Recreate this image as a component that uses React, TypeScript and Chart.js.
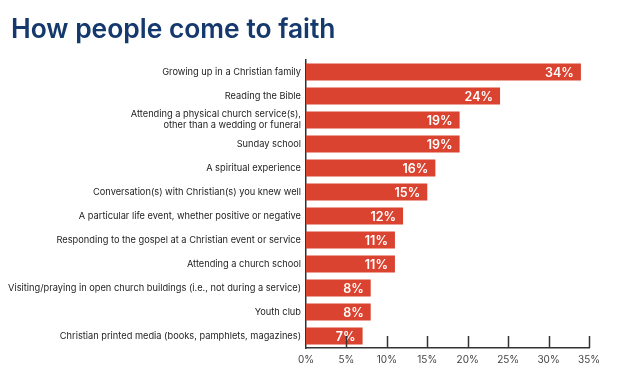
import React, { useEffect, useRef } from "react";
import { Chart, registerables } from "chart.js";

Chart.register(...registerables);

const TITLE = "How people come to faith";
const categories: (string | string[])[] = [
  "Growing up in a Christian family",
  "Reading the Bible",
  ["Attending a physical church service(s),", "other than a wedding or funeral"],
  "Sunday school",
  "A spiritual experience",
  "Conversation(s) with Christian(s) you knew well",
  "A particular life event, whether positive or negative",
  "Responding to the gospel at a Christian event or service",
  "Attending a church school",
  "Visiting/praying in open church buildings (i.e., not during a service)",
  "Youth club",
  "Christian printed media (books, pamphlets, magazines)",
];
const values = [34, 24, 19, 19, 16, 15, 12, 11, 11, 8, 8, 7];
const xTicks = [0, 5, 10, 15, 20, 25, 30, 35];

const BAR_COLOR = "#d9432f";
const TITLE_COLOR = "#15396d";
const FONT = "Inter, 'DejaVu Sans', sans-serif";

const overlayPlugin = {
  id: "overlay",
  afterDatasetsDraw(chart: any) {
    const { ctx, chartArea } = chart;
    const xs = chart.scales.x;
    const meta = chart.getDatasetMeta(0);
    ctx.save();
    // value labels
    ctx.fillStyle = "#ffffff";
    ctx.font = `600 12.5px ${FONT}`;
    ctx.textAlign = "right";
    ctx.textBaseline = "middle";
    meta.data.forEach((bar: any, i: number) => {
      ctx.fillText(`${values[i]}%`, bar.x - 7, bar.y + 1);
    });
    // upward tick marks
    ctx.strokeStyle = "#333333";
    ctx.lineWidth = 1.5;
    xTicks.forEach((t) => {
      if (t === 0) return;
      const x = Math.round(xs.getPixelForValue(t)) + 0.5;
      ctx.beginPath();
      ctx.moveTo(x, chartArea.bottom);
      ctx.lineTo(x, chartArea.bottom - 12);
      ctx.stroke();
    });
    // title
    ctx.fillStyle = TITLE_COLOR;
    ctx.font = `600 26.4px ${FONT}`;
    ctx.textAlign = "left";
    ctx.textBaseline = "alphabetic";
    ctx.fillText(TITLE, 11, 38);
    ctx.restore();
  },
};

export default function App() {
  const ref = useRef<HTMLCanvasElement>(null);
  useEffect(() => {
    document.body.style.margin = "0";
    const chart = new Chart(ref.current!, {
      type: "bar",
      data: {
        labels: categories,
        datasets: [
          {
            data: values,
            backgroundColor: BAR_COLOR,
            borderWidth: 0,
            barPercentage: 0.7,
            categoryPercentage: 1,
          },
        ],
      },
      options: {
        indexAxis: "y",
        responsive: false,
        animation: false,
        layout: { padding: { top: 60, right: 41, left: 0, bottom: 0 } },
        plugins: {
          legend: { display: false },
          tooltip: { enabled: false },
          title: { display: false },
        },
        scales: {
          x: {
            min: 0,
            max: 35,
            grid: { display: false, drawTicks: false },
            border: { display: true, color: "#333333", width: 1.5 },
            afterBuildTicks(scale: any) {
              scale.ticks = xTicks.map((v) => ({ value: v }));
            },
            afterFit(scale: any) {
              scale.height = 21;
            },
            ticks: {
              padding: 6,
              color: "#444444",
              font: { family: FONT, size: 10 },
              callback: (v: any) => `${v}%`,
            },
          },
          y: {
            grid: { display: false, drawTicks: false },
            border: { display: true, color: "#333333", width: 1.5 },
            afterFit(scale: any) {
              scale.width = 306;
            },
            ticks: {
              padding: 5,
              color: "#222222",
              font: { family: FONT, size: 9.25 },
              autoSkip: false,
            },
          },
        },
      },
      plugins: [overlayPlugin],
    } as any);
    return () => chart.destroy();
  }, []);
  return (
    <div style={{ position: "absolute", left: 0, top: 0, width: 630, height: 369, background: "#fff" }}>
      <canvas ref={ref} width={630} height={369} style={{ width: 630, height: 369 }} />
    </div>
  );
}
